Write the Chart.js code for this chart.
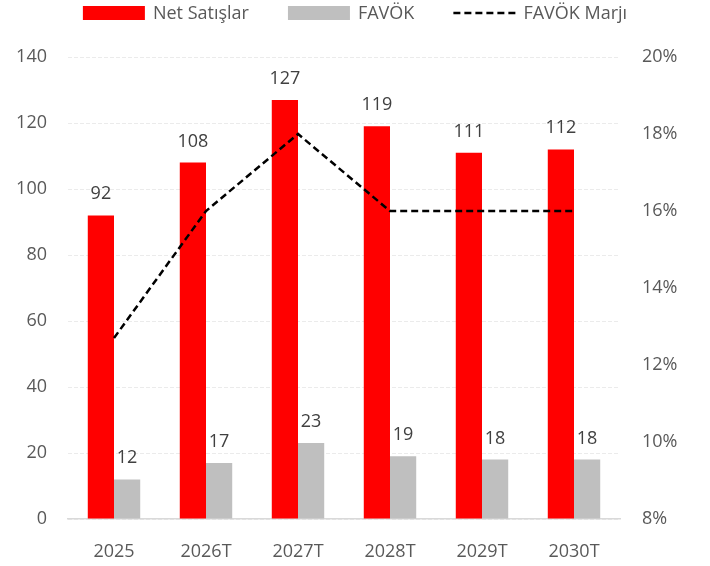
<!DOCTYPE html>
<html>
<head>
<meta charset="utf-8">
<script src="https://cdn.jsdelivr.net/npm/chart.js@4.4.1/dist/chart.umd.min.js"></script>
<style>
  html, body { margin: 0; padding: 0; background: #fff; }
  #wrap { width: 710px; height: 566px; }
</style>
</head>
<body>
<div id="wrap"><canvas id="myChart" width="710" height="566"></canvas></div>
<script>
var years = ['2025', '2026T', '2027T', '2028T', '2029T', '2030T'];
var netSatislar = [92, 108, 127, 119, 111, 112];
var favok = [12, 17, 23, 19, 18, 18];
var favokMarji = [12.7, 16, 18, 16, 16, 16];

var leftTicks = { min: 0, max: 140, step: 20 };
var rightTicks = { min: 8, max: 20, step: 2 };

Chart.defaults.font.family = "'Open Sans', 'Noto Sans', sans-serif";
Chart.defaults.font.size = 18;
Chart.defaults.color = '#595959';

// values above the bars
var barLabels = {
    id: 'barLabels',
    afterDatasetsDraw: function (chart) {
        var ctx = chart.ctx;
        ctx.save();
        ctx.font = "18px 'Open Sans', sans-serif";
        ctx.fillStyle = '#404040';
        ctx.textAlign = 'center';
        ctx.textBaseline = 'alphabetic';
        chart.data.datasets.forEach(function (ds, i) {
            if (ds.type !== 'bar') return;
            chart.getDatasetMeta(i).data.forEach(function (el, j) {
                ctx.fillText(ds.data[j], el.x, el.y - 16);
            });
        });
        ctx.restore();
    }
};

// legend row at the top
var topLegend = {
    id: 'topLegend',
    afterDraw: function (chart) {
        var ctx = chart.ctx;
        var sampleW = 62, gap = 39, textGap = 8, y = 13;
        ctx.save();
        ctx.font = "18px 'Open Sans', sans-serif";
        var items = chart.data.datasets.map(function (ds) {
            return { ds: ds, w: sampleW + textGap + ctx.measureText(ds.label).width };
        });
        var total = items.reduce(function (s, it) { return s + it.w; }, 0) + gap * (items.length - 1);
        var x = (chart.width - total) / 2;
        items.forEach(function (it) {
            var ds = it.ds;
            if (ds.type === 'bar') {
                ctx.fillStyle = ds.backgroundColor;
                ctx.fillRect(x, y - 7, sampleW, 14);
            } else {
                ctx.strokeStyle = ds.borderColor;
                ctx.lineWidth = ds.borderWidth;
                ctx.setLineDash(ds.borderDash);
                ctx.beginPath();
                ctx.moveTo(x, y);
                ctx.lineTo(x + sampleW, y);
                ctx.stroke();
                ctx.setLineDash([]);
            }
            ctx.fillStyle = '#595959';
            ctx.textAlign = 'left';
            ctx.textBaseline = 'middle';
            ctx.fillText(ds.label, x + sampleW + textGap, y + 1);
            x += it.w + gap;
        });
        ctx.restore();
    }
};

var ctx = document.getElementById('myChart').getContext('2d');
var myChart = new Chart(ctx, {
    type: 'bar',
    data: {
        labels: years,
        datasets: [{
            type: 'bar',
            label: 'Net Satışlar',
            data: netSatislar,
            backgroundColor: '#ff0000',
            yAxisID: 'y',
            order: 1
        }, {
            type: 'bar',
            label: 'FAVÖK',
            data: favok,
            backgroundColor: '#bfbfbf',
            yAxisID: 'y',
            order: 1
        }, {
            type: 'line',
            label: 'FAVÖK Marjı',
            data: favokMarji,
            borderColor: '#000000',
            borderWidth: 2.5,
            borderDash: [7, 4],
            pointRadius: 0,
            tension: 0,
            fill: false,
            yAxisID: 'y1',
            order: 0
        }]
    },
    options: {
        responsive: false,
        animation: false,
        layout: { padding: { top: 57, left: 0, right: 0, bottom: 0 } },
        datasets: {
            bar: { categoryPercentage: 0.57, barPercentage: 1.0 }
        },
        plugins: {
            legend: { display: false },
            tooltip: { enabled: false }
        },
        scales: {
            x: {
                grid: { display: false },
                border: { display: true, color: '#d9d9d9', width: 1.5 },
                ticks: { padding: 14, color: '#595959' },
                afterFit: function (scale) { scale.height = 47; }
            },
            y: {
                position: 'left',
                min: leftTicks.min,
                max: leftTicks.max,
                ticks: { stepSize: leftTicks.step, padding: 21, color: '#595959' },
                grid: { color: '#ebebeb', lineWidth: 1, drawTicks: false },
                border: { display: false, dash: [4, 2] },
                afterFit: function (scale) { scale.width = 68; }
            },
            y1: {
                position: 'right',
                min: rightTicks.min,
                max: rightTicks.max,
                ticks: {
                    stepSize: rightTicks.step,
                    padding: 22,
                    color: '#595959',
                    callback: function (v) { return v + '%'; }
                },
                grid: { display: false, drawTicks: false },
                border: { display: false },
                afterFit: function (scale) { scale.width = 90; }
            }
        }
    },
    plugins: [barLabels, topLegend]
});
</script>
</body>
</html>
